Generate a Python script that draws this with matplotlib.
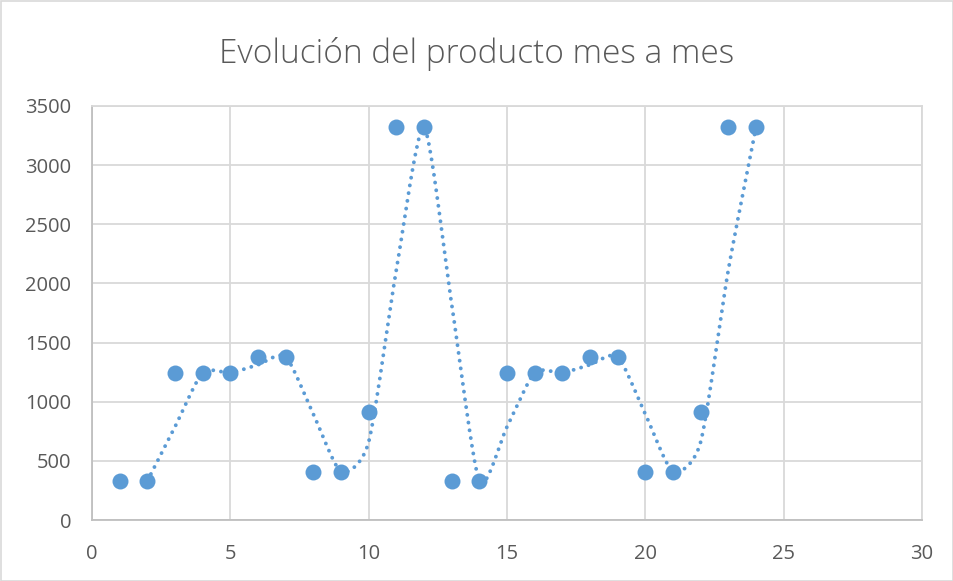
import numpy as np
import matplotlib
matplotlib.use("Agg")
import matplotlib.pyplot as plt
from matplotlib.patches import Rectangle

# Monthly product data
months = [1, 2, 3, 4, 5, 6, 7, 8, 9, 10, 11, 12,
          13, 14, 15, 16, 17, 18, 19, 20, 21, 22, 23, 24]
values = [330, 330, 1245, 1245, 1245, 1380, 1380, 410, 410, 910, 3320, 3320,
          330, 330, 1245, 1245, 1245, 1380, 1380, 410, 410, 910, 3320, 3320]
ma_period = 2
x_ticks = [0, 5, 10, 15, 20, 25, 30]
y_ticks = [0, 500, 1000, 1500, 2000, 2500, 3000, 3500]
title = "Evolución del producto mes a mes"

blue = "#5B9BD5"
grid_c = "#D9D9D9"
axis_c = "#BFBFBF"
text_c = "#595959"

plt.rcParams["font.family"] = ["Open Sans", "DejaVu Sans"]

fig = plt.figure(figsize=(9.54, 5.81), dpi=100)
ax = fig.add_axes([92 / 954, 1 - 520 / 581, (922 - 92) / 954, (520 - 106) / 581])

# Moving-average trendline
x = np.array(months, dtype=float)
y = np.array(values, dtype=float)
ma = np.convolve(y, np.ones(ma_period) / ma_period, mode="valid")
mx = x[ma_period - 1:]


def smooth_curve(px, py, n=24, tension=0.35):
    """Cardinal-spline smoothing through the given points."""
    px = np.concatenate([[2 * px[0] - px[1]], px, [2 * px[-1] - px[-2]]])
    py = np.concatenate([[2 * py[0] - py[1]], py, [2 * py[-1] - py[-2]]])
    ox, oy = [], []
    t = np.linspace(0, 1, n, endpoint=False)
    h00 = 2 * t ** 3 - 3 * t ** 2 + 1
    h10 = t ** 3 - 2 * t ** 2 + t
    h01 = -2 * t ** 3 + 3 * t ** 2
    h11 = t ** 3 - t ** 2
    for i in range(1, len(px) - 2):
        for arr, out in ((px, ox), (py, oy)):
            m1 = tension * (arr[i + 1] - arr[i - 1])
            m2 = tension * (arr[i + 2] - arr[i])
            out.extend(h00 * arr[i] + h10 * m1 + h01 * arr[i + 1] + h11 * m2)
    ox.append(px[-2])
    oy.append(py[-2])
    return np.array(ox), np.array(oy)


sx, sy = smooth_curve(mx, ma)
ax.plot(sx, sy, color=blue, lw=2.8, linestyle=(0, (0.01, 2.0)),
        dash_capstyle="round", zorder=3)

ax.plot(x, y, "o", color=blue, markersize=11.5, markeredgewidth=0, zorder=4)

ax.set_xlim(0, 30)
ax.set_ylim(0, 3500)
ax.set_xticks(x_ticks)
ax.set_yticks(y_ticks)
ax.grid(True, color=grid_c, lw=1.3)
ax.set_axisbelow(True)
for side in ("top", "right"):
    ax.spines[side].set_color(grid_c)
    ax.spines[side].set_linewidth(1.3)
for side in ("left", "bottom"):
    ax.spines[side].set_color(axis_c)
    ax.spines[side].set_linewidth(1.3)
ax.tick_params(length=0, labelsize=14.5, labelcolor=text_c)
ax.tick_params(axis="x", pad=17)
ax.tick_params(axis="y", pad=15)

fig.text(0.5, 1 - 63 / 581, title, ha="center", va="baseline",
         fontsize=24, color=text_c, fontweight="light")

# Chart border
fig.patches.append(Rectangle((0.5 / 954, 0.5 / 581), 1 - 1.5 / 954, 1 - 1.5 / 581,
                             transform=fig.transFigure, fill=False,
                             edgecolor=grid_c, lw=1.2))

fig.savefig("out.png", dpi=100)
